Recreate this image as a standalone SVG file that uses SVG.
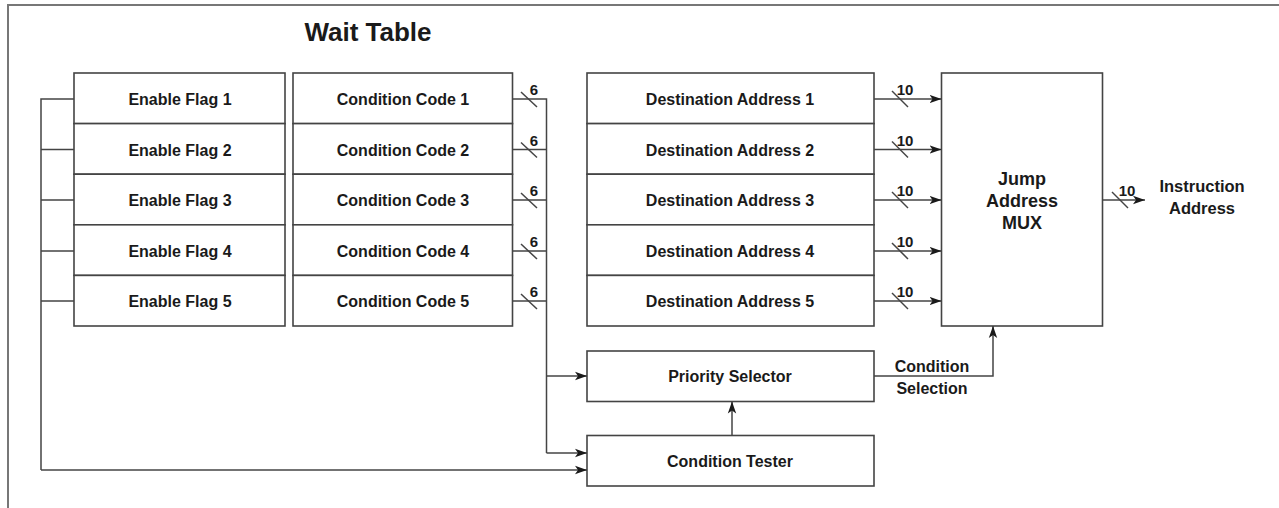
<svg xmlns="http://www.w3.org/2000/svg" width="1279" height="508" viewBox="0 0 1279 508">
<defs>
<marker id="ah" markerWidth="14" markerHeight="10" refX="12" refY="5" orient="auto" markerUnits="userSpaceOnUse">
<path d="M0,0.8 L12,5 L0,9.2 L3,5 Z" fill="#1a1a1a"/>
</marker>
<style>
.box{fill:#fff;stroke:#444;stroke-width:1.6}
.ln{fill:none;stroke:#444;stroke-width:1.5}
.ar{fill:none;stroke:#444;stroke-width:1.5;marker-end:url(#ah)}
.t{font-family:"Liberation Sans",Arial,sans-serif;font-weight:bold;font-size:16px;fill:#1a1a1a;text-anchor:middle}
.n{font-family:"Liberation Sans",Arial,sans-serif;font-weight:bold;font-size:15px;fill:#1a1a1a;text-anchor:middle}
.big{font-size:18px}
</style>
</defs>
<rect width="1279" height="508" fill="#fff"/>
<rect x="8" y="5" width="1300" height="600" fill="none" stroke="#777" stroke-width="2"/>
<text x="368" y="41" class="t" style="font-size:26px">Wait Table</text>

<g id="enable-flags">
<g id="ef1"><rect class="box" x="74" y="73" width="211" height="50.6"/><text class="t" x="180" y="105">Enable Flag 1</text></g>
<g id="ef2"><rect class="box" x="74" y="123.6" width="211" height="50.6"/><text class="t" x="180" y="155.5">Enable Flag 2</text></g>
<g id="ef3"><rect class="box" x="74" y="174.2" width="211" height="50.6"/><text class="t" x="180" y="205.5">Enable Flag 3</text></g>
<g id="ef4"><rect class="box" x="74" y="224.8" width="211" height="50.6"/><text class="t" x="180" y="256.5">Enable Flag 4</text></g>
<g id="ef5"><rect class="box" x="74" y="275.4" width="211" height="50.6"/><text class="t" x="180" y="306.5">Enable Flag 5</text></g>
</g>

<g id="condition-codes">
<g id="cc1"><rect class="box" x="293" y="73" width="219.5" height="50.6"/><text class="t" x="403" y="105">Condition Code 1</text></g>
<g id="cc2"><rect class="box" x="293" y="123.6" width="219.5" height="50.6"/><text class="t" x="403" y="155.5">Condition Code 2</text></g>
<g id="cc3"><rect class="box" x="293" y="174.2" width="219.5" height="50.6"/><text class="t" x="403" y="205.5">Condition Code 3</text></g>
<g id="cc4"><rect class="box" x="293" y="224.8" width="219.5" height="50.6"/><text class="t" x="403" y="256.5">Condition Code 4</text></g>
<g id="cc5"><rect class="box" x="293" y="275.4" width="219.5" height="50.6"/><text class="t" x="403" y="306.5">Condition Code 5</text></g>
</g>

<g id="destination-addresses">
<g id="da1"><rect class="box" x="587" y="73" width="287" height="50.6"/><text class="t" x="730" y="105">Destination Address 1</text></g>
<g id="da2"><rect class="box" x="587" y="123.6" width="287" height="50.6"/><text class="t" x="730" y="155.5">Destination Address 2</text></g>
<g id="da3"><rect class="box" x="587" y="174.2" width="287" height="50.6"/><text class="t" x="730" y="205.5">Destination Address 3</text></g>
<g id="da4"><rect class="box" x="587" y="224.8" width="287" height="50.6"/><text class="t" x="730" y="256.5">Destination Address 4</text></g>
<g id="da5"><rect class="box" x="587" y="275.4" width="287" height="50.6"/><text class="t" x="730" y="306.5">Destination Address 5</text></g>
</g>

<g id="mux"><rect class="box" x="941.5" y="73" width="161" height="253"/>
<text class="t big" x="1022" y="185">Jump</text>
<text class="t big" x="1022" y="207">Address</text>
<text class="t big" x="1022" y="229">MUX</text></g>

<g id="priority-selector"><rect class="box" x="587" y="351" width="287" height="50.5"/><text class="t" x="730" y="382">Priority Selector</text></g>
<g id="condition-tester"><rect class="box" x="587" y="435.5" width="287" height="50.5"/><text class="t" x="730" y="467">Condition Tester</text></g>

<g id="connectors">
<path class="ln" d="M74,99 H41 V470"/>
<path class="ln" d="M74,149.5 H41 M74,200 H41 M74,251 H41 M74,301 H41"/>
<path class="ar" d="M41,470 H587"/>
<path class="ln" d="M512.5,99 H546.5 V453"/>
<path class="ln" d="M512.5,149.5 H546.5 M512.5,200 H546.5 M512.5,251 H546.5 M512.5,301 H546.5"/>
<path class="ar" d="M546.5,376 H587"/>
<path class="ar" d="M546.5,453 H587"/>
<g class="ln">
<path d="M521,92 L537,107"/><path d="M521,142.5 L537,157.5"/><path d="M521,193 L537,208"/><path d="M521,244 L537,259"/><path d="M521,294 L537,309"/>
</g>
<text class="n" x="534" y="95">6</text>
<text class="n" x="534" y="145.5">6</text>
<text class="n" x="534" y="196">6</text>
<text class="n" x="534" y="247">6</text>
<text class="n" x="534" y="297">6</text>
<path class="ar" d="M874,99 H941.5"/>
<path class="ar" d="M874,149.5 H941.5"/>
<path class="ar" d="M874,200 H941.5"/>
<path class="ar" d="M874,251 H941.5"/>
<path class="ar" d="M874,301 H941.5"/>
<g class="ln">
<path d="M892,91 L908,107"/><path d="M892,141.5 L908,157.5"/><path d="M892,192 L908,208"/><path d="M892,243 L908,259"/><path d="M892,293 L908,309"/>
</g>
<text class="n" x="905" y="95">10</text>
<text class="n" x="905" y="145.5">10</text>
<text class="n" x="905" y="196">10</text>
<text class="n" x="905" y="247">10</text>
<text class="n" x="905" y="297">10</text>
<path class="ar" d="M1102.5,200 H1145"/>
<path class="ln" d="M1112,192 L1128,208"/>
<text class="n" x="1127" y="196">10</text>
<path class="ar" d="M732,435.5 V401.5"/>
<path class="ar" d="M874,376 H993 V326"/>
</g>
<text class="t" x="1202" y="192" style="font-size:16.5px">Instruction</text>
<text class="t" x="1202" y="214" style="font-size:16.5px">Address</text>
<text class="t" x="932" y="372">Condition</text>
<text class="t" x="932" y="394">Selection</text>
</svg>
